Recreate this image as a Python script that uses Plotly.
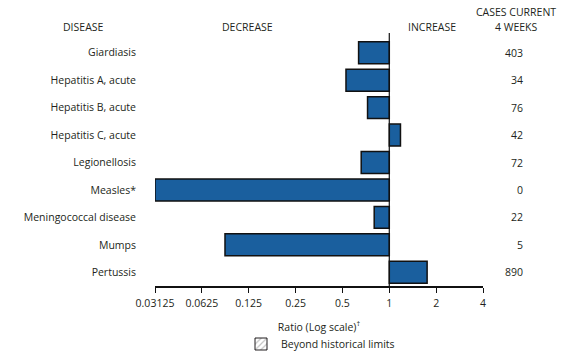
import plotly.graph_objects as go

diseases = ["Giardiasis", "Hepatitis A, acute", "Hepatitis B, acute", "Hepatitis C, acute",
            "Legionellosis", "Measles*", "Meningococcal disease", "Mumps", "Pertussis"]
ratios = [0.635, 0.527, 0.725, 1.18, 0.66, 0.03125, 0.80, 0.088, 1.75]
cases = ["403", "34", "76", "42", "72", "0", "22", "5", "890"]
tick_vals = [0.03125, 0.0625, 0.125, 0.25, 0.5, 1, 2, 4]
tick_text = ["0.03125", "0.0625", "0.125", "0.25", "0.5", "1", "2", "4"]

TXT = "#231f20"
FONT = "Open Sans"
FS = 10.5
BLUE = "#1a5f9e"

fig = go.Figure()
fig.add_trace(go.Bar(
    y=diseases, x=[r - 1 for r in ratios], base=[1] * len(ratios),
    orientation="h", marker=dict(color=BLUE, line=dict(color="#111111", width=1.5)),
    showlegend=False, hoverinfo="skip"))
fig.add_trace(go.Bar(
    y=[None], x=[None], orientation="h", name="Beyond historical limits",
    marker=dict(color="white", line=dict(color="#231f20", width=1),
                pattern=dict(shape="/", fgcolor="#888888", bgcolor="white", size=5, solidity=0.3)),
    showlegend=True))

W, H = 587, 355
L, R, T, B = 155, 104, 39, 69
pw, ph = W - L - R, H - T - B

def px_x(x):
    return (x - L) / pw

def px_y(y):
    return (H - B - y) / ph

annotations = []
for d, c in zip(diseases, cases):
    annotations.append(dict(x=px_x(525), xref="paper", y=d, yref="y", text=c,
                            showarrow=False, xanchor="right", yanchor="middle",
                            font=dict(family=FONT, size=FS, color=TXT)))
headers = [("DISEASE", 83, 27), ("DECREASE", 247, 27), ("INCREASE", 432, 27),
           ("CASES CURRENT", 516, 12), ("4 WEEKS", 516, 27)]
for t, x, y in headers:
    annotations.append(dict(x=px_x(x), xref="paper", y=px_y(y), yref="paper", text=t,
                            showarrow=False, xanchor="center", yanchor="middle",
                            font=dict(family=FONT, size=FS, color=TXT)))

fig.add_shape(type="line", xref="x", yref="paper", x0=1, x1=1, y0=0, y1=px_y(33),
              line=dict(color="#111111", width=1.2))

fig.update_layout(
    width=W, height=H, margin=dict(l=L, r=R, t=T, b=B, autoexpand=False),
    paper_bgcolor="white", plot_bgcolor="white",
    barmode="overlay", bargap=0.2,
    font=dict(family=FONT, size=FS, color=TXT),
    annotations=annotations,
    legend=dict(xref="container", yref="container", x=241 / W, y=1 - 344 / H,
                xanchor="left", yanchor="middle",
                font=dict(family=FONT, size=FS, color=TXT), itemwidth=30,
                bgcolor="rgba(0,0,0,0)"),
    xaxis=dict(type="log", range=[-1.50515, 0.60206], tickvals=tick_vals, ticktext=tick_text,
               showgrid=False, zeroline=False, showline=True, linecolor="#111111", linewidth=1.5,
               ticks="outside", ticklen=5, tickcolor="#111111", tickwidth=1.2,
               ticklabelstandoff=2,
               tickfont=dict(family=FONT, size=FS, color=TXT), automargin=False,
               title=dict(text="Ratio (Log scale)<sup>†</sup>", standoff=14,
                          font=dict(family=FONT, size=FS, color=TXT))),
    yaxis=dict(autorange="reversed", showgrid=False, zeroline=False, showline=False,
               ticks="", ticklabelstandoff=18, automargin=False,
               tickfont=dict(family=FONT, size=FS, color=TXT)),
)

fig.write_html("out.html", config={"displayModeBar": False},
               post_script="document.body.style.margin='0';document.body.style.overflow='hidden';")
